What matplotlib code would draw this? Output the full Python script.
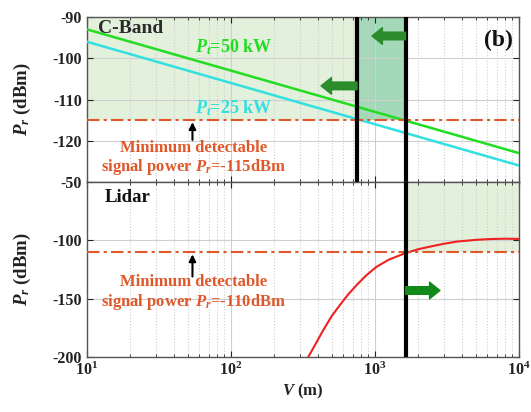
import matplotlib
matplotlib.use("Agg")
import matplotlib.pyplot as plt

plt.rcParams['font.family'] = ['Liberation Serif', 'DejaVu Serif']
plt.rcParams['font.weight'] = 'bold'
plt.rcParams['axes.labelweight'] = 'bold'
plt.rcParams['axes.unicode_minus'] = False
plt.rcParams['mathtext.fontset'] = 'custom'
plt.rcParams['mathtext.rm'] = 'Liberation Serif:bold'
plt.rcParams['mathtext.it'] = 'Liberation Serif:bold:italic'
plt.rcParams['mathtext.bf'] = 'Liberation Serif:bold'

# ---- data ----
V_cband = [10, 10000]
P_50kW = [-93.0, -123.0]
P_25kW = [-96.0, -126.0]
V_lidar = [344, 390, 438, 500, 571, 650, 746, 870, 1027, 1250, 1614, 2000,
           2409, 3000, 3690, 5000, 6310, 8000, 10000]
P_lidar = [-200, -188, -176.8, -165, -155.4, -146.5, -138.3, -130, -122.6, -116.5,
           -111.1, -107.6, -105.4, -103.0, -101.1, -99.6, -98.9, -98.6, -98.8]
thr_cband = -115
thr_lidar = -110
V_cut25 = 750
V_cut50 = 1630
top_yticks = [-120, -110, -100, -90]
bot_yticks = [-200, -150, -100, -50]
x_ticks = [10, 100, 1000, 10000]

C_GREEN = '#22dd22'
C_CYAN = '#33e0e0'
C_ORANGE = '#e0582a'
C_RED = '#ee2222'
C_FILL = '#e3f0dc'
C_FILL2 = '#a3d8b8'
C_ARROW = '#2a8c2a'
C_ARROW2 = '#13891a'

fig = plt.figure(figsize=(5.31, 4.12), dpi=100)
L, R = 87/531, 519/531
ax1 = fig.add_axes([L, 1-182/412, R-L, (182-17)/412])
ax2 = fig.add_axes([L, 1-357/412, R-L, (357-182)/412])

for ax in (ax1, ax2):
    ax.set_xscale('log')
    ax.set_xlim(10, 10000)
    ax.grid(which='major', axis='both', color='#cfcfcf', lw=0.8)
    ax.grid(which='minor', axis='x', color='#cfcfcf', ls=':', lw=0.8)
    ax.tick_params(which='both', direction='in', top=True, right=True,
                   labelsize=11.5, colors='#222222')
    ax.tick_params(which='major', length=4)
    ax.tick_params(which='minor', length=2)
    for s in ax.spines.values():
        s.set_color('#555555')
        s.set_linewidth(1.0)
    ax.set_xticks(x_ticks)

arrow_style = 'simple,head_width=1.2,head_length=0.75,tail_width=0.55'

# ---- top: C-band ----
ax1.set_ylim(-130, -90)
ax1.set_yticks(top_yticks)
ax1.tick_params(labelbottom=False)
ax1.fill_between([10, V_cut25], thr_cband, -90, color=C_FILL, lw=0, zorder=0.5)
ax1.fill_between([V_cut25, V_cut50], thr_cband, -90, color=C_FILL2, lw=0, zorder=0.5)
ax1.plot(V_cband, P_50kW, color=C_GREEN, lw=1.8, zorder=3)
ax1.plot(V_cband, P_25kW, color=C_CYAN, lw=1.8, zorder=3)
ax1.axhline(thr_cband, color=C_ORANGE, lw=1.5, ls=(0, (6, 2, 1.5, 2)), zorder=3)
ax1.axvline(V_cut25, color='k', lw=3, zorder=4)
ax1.axvline(V_cut50, color='k', lw=3, zorder=4)
ax1.text(0.025, 0.93, 'C-Band', transform=ax1.transAxes, fontsize=14,
         color='#2b2b2b', ha='left', va='center')
ax1.text(0.985, 0.86, '(b)', transform=ax1.transAxes, fontsize=17,
         color='#111111', ha='right', va='center')
ax1.text(56, -97.2, r'$P_t$=50 kW', color=C_GREEN, fontsize=13, ha='left', va='center')
ax1.text(56, -112.0, r'$P_t$=25 kW', color=C_CYAN, fontsize=13, ha='left', va='center')
ax1.text(55, -124.3, 'Minimum detectable\nsignal power $P_r$=-115dBm',
         color=C_ORANGE, fontsize=12, ha='center', va='center', linespacing=1.1)
ax1.annotate('', xy=(54, thr_cband - 0.5), xytext=(54, -119.8),
             arrowprops=dict(arrowstyle='-|>', color='k', lw=1.5,
                             mutation_scale=10, shrinkA=0, shrinkB=0))
ax1.annotate('', xy=(953, -94.6), xytext=(V_cut50, -94.6),
             arrowprops=dict(arrowstyle=arrow_style,
                             color=C_ARROW, mutation_scale=10, shrinkA=0, shrinkB=0), zorder=5)
ax1.annotate('', xy=(422, -106.7), xytext=(V_cut25, -106.7),
             arrowprops=dict(arrowstyle=arrow_style,
                             color=C_ARROW, mutation_scale=10, shrinkA=0, shrinkB=0), zorder=5)
ax1.set_ylabel(r'$P_r$ (dBm)', fontsize=13.5, color='#222222')
ax1.yaxis.set_label_coords(-0.125, 0.5)

# ---- bottom: Lidar ----
ax2.set_ylim(-200, -50)
ax2.set_yticks(bot_yticks)
ax2.fill_between([V_cut50, 10000], thr_lidar, -50, color=C_FILL, lw=0, zorder=0.5)
ax2.plot(V_lidar, P_lidar, color=C_RED, lw=1.5, zorder=3)
ax2.axhline(thr_lidar, color=C_ORANGE, lw=1.5, ls=(0, (6, 2, 1.5, 2)), zorder=3)
ax2.axvline(V_cut50, color='k', lw=3, zorder=4)
ax2.text(0.04, 0.91, 'Lidar', transform=ax2.transAxes, fontsize=13.5,
         color='#111111', ha='left', va='center')
ax2.text(55, -145, 'Minimum detectable\nsignal power $P_r$=-110dBm',
         color=C_ORANGE, fontsize=12, ha='center', va='center', linespacing=1.1)
ax2.annotate('', xy=(54, thr_lidar - 2), xytext=(54, -131),
             arrowprops=dict(arrowstyle='-|>', color='k', lw=1.5,
                             mutation_scale=10, shrinkA=0, shrinkB=0))
ax2.annotate('', xy=(2825, -143), xytext=(V_cut50, -143),
             arrowprops=dict(arrowstyle=arrow_style,
                             color=C_ARROW2, mutation_scale=10, shrinkA=0, shrinkB=0), zorder=5)
ax2.set_ylabel(r'$P_r$ (dBm)', fontsize=13.5, color='#222222')
ax2.yaxis.set_label_coords(-0.125, 0.5)
ax2.set_xlabel(r'$V$ (m)', fontsize=12, color='#222222', labelpad=2)

fig.savefig('out.png', dpi=100)
